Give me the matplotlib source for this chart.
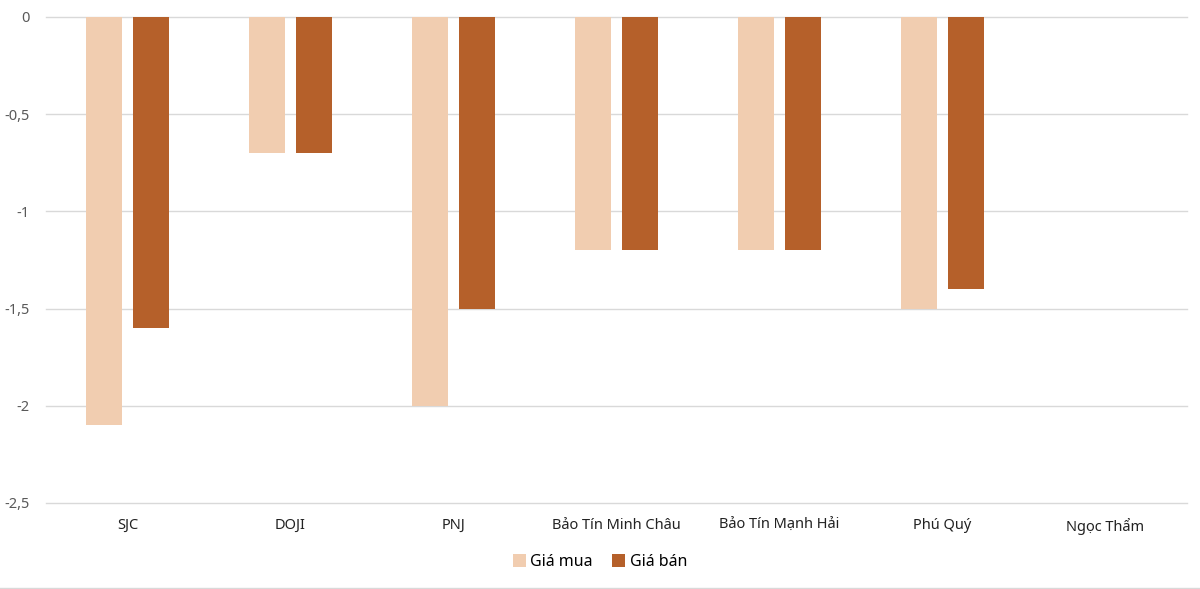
import numpy as np
import matplotlib.pyplot as plt
from matplotlib.lines import Line2D

plt.rcParams['font.family'] = ['Noto Sans', 'DejaVu Sans']

# Dữ liệu
brands = ['SJC', 'DOJI', 'PNJ', 'Bảo Tín Minh Châu', 'Bảo Tín Mạnh Hải', 'Phú Quý', 'Ngọc Thẩm']
gia_mua = [-2.1, -0.7, -2.0, -1.2, -1.2, -1.5, 0]
gia_ban = [-1.6, -0.7, -1.5, -1.2, -1.2, -1.4, 0]

c_mua = '#F1CDB0'
c_ban = '#B5602A'

fig = plt.figure(figsize=(12, 5.89), dpi=100)
ax = fig.add_axes([46 / 1200, 1 - 503 / 589, (1187 - 46) / 1200, (503 - 17) / 589])

x = np.arange(len(brands))
w = 0.22
ax.bar(x - 0.143, gia_mua, w, color=c_mua, label='Giá mua', zorder=3)
ax.bar(x + 0.143, gia_ban, w, color=c_ban, label='Giá bán', zorder=3)

ax.set_xlim(-0.5, len(brands) - 0.5)
ax.set_ylim(-2.5, 0)
yt = [0, -0.5, -1, -1.5, -2, -2.5]
ax.set_yticks(yt)
ax.set_yticklabels(['0', '-0,5', '-1', '-1,5', '-2', '-2,5'], color='#595959', fontsize=10.5)
ax.set_xticks(x)
ax.set_xticklabels(brands, fontsize=10.5, color='#222222')
ax.tick_params(length=0)
ax.tick_params(axis='y', pad=12)
ax.tick_params(axis='x', pad=11)
ax.grid(axis='y', color='#D9D9D9', linewidth=1, zorder=0)
for gl in ax.get_ygridlines():
    gl.set_clip_on(False)
for s in ax.spines.values():
    s.set_visible(False)

fig.legend(loc='center', bbox_to_anchor=(0.5, 1 - 562 / 589), ncol=2, frameon=False,
           fontsize=11.5, handlelength=0.8, handleheight=0.8, handletextpad=0.3,
           columnspacing=1.2)

fig.add_artist(Line2D([0, 1], [0.002, 0.002], color='#D9D9D9', linewidth=1))

plt.savefig('out.png', dpi=100)
